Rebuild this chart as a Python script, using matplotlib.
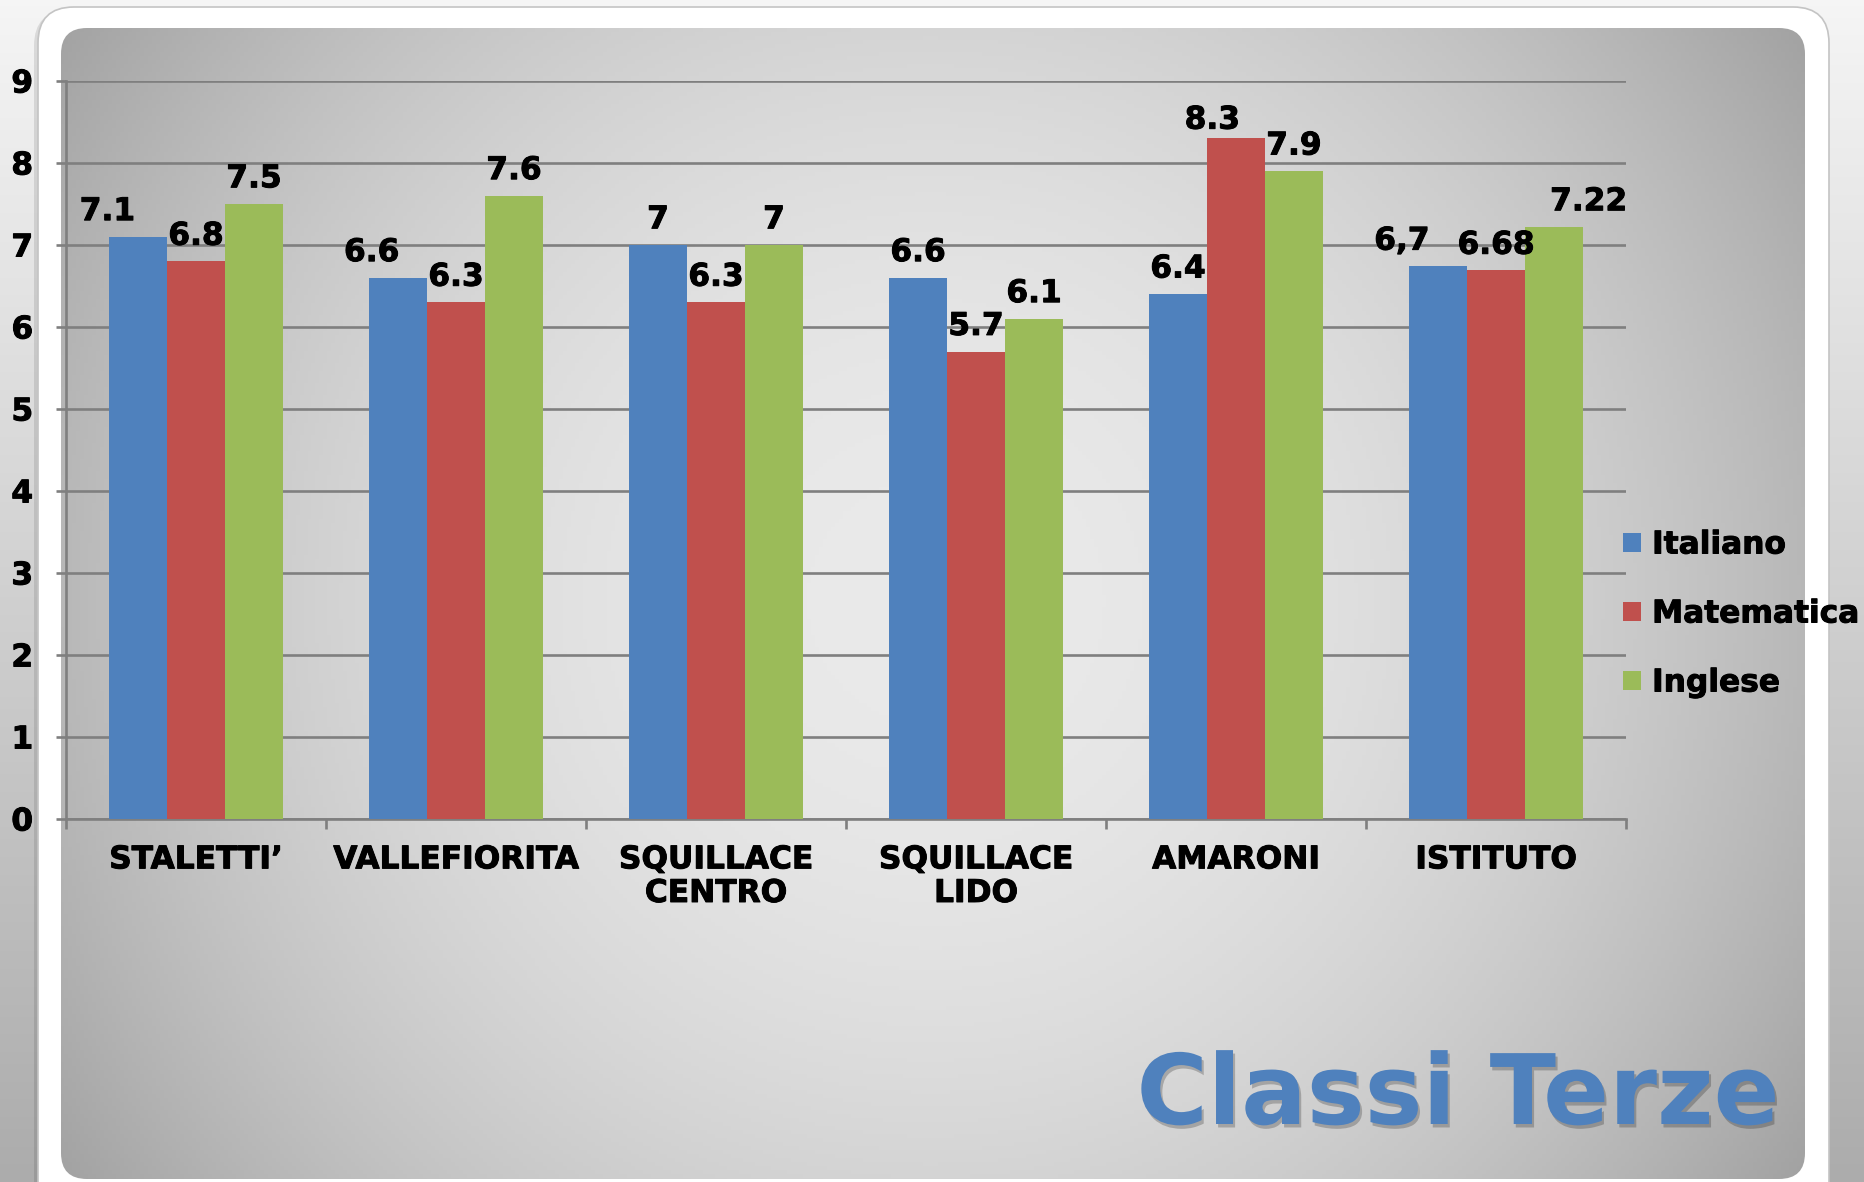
import numpy as np
import matplotlib
matplotlib.use("Agg")
import matplotlib.pyplot as plt
from matplotlib.patches import FancyBboxPatch, Patch
import matplotlib.patheffects as pe

# ---------------- data ----------------
categories = ["STALETTI\u2019", "VALLEFIORITA", "SQUILLACE\nCENTRO", "SQUILLACE\nLIDO", "AMARONI", "ISTITUTO"]
series_names = ["Italiano", "Matematica", "Inglese"]
italiano = [7.1, 6.6, 7.0, 6.6, 6.4, 6.74]
matematica = [6.8, 6.3, 6.3, 5.7, 8.3, 6.69]
inglese = [7.5, 7.6, 7.0, 6.1, 7.9, 7.22]
italiano_labels = ["7.1", "6.6", "7", "6.6", "6.4", "6,7"]
matematica_labels = ["6.8", "6.3", "6.3", "5.7", "8.3", "6.68"]
inglese_labels = ["7.5", "7.6", "7", "6.1", "7.9", "7.22"]
y_ticks = [0, 1, 2, 3, 4, 5, 6, 7, 8, 9]
title_text = "Classi Terze"

# ---------------- style ----------------
colors = ["#4F81BD", "#C0504D", "#9BBB59"]
label_dx = [  # horizontal nudges of the value labels (points)
    [-22, -19, 0, 0, 0, -26],
    [0, 0, 0, 0, -17, 0],
    [0, 0, 0, 0, 0, 25],
]
label_dy = [
    [12, 12, 12, 12, 12, 12],
    [12, 12, 12, 12, 7, 12],
    [12, 12, 12, 12, 12, 12],
]
W, H = 1865, 1182
DPI = 100
FS = 22.5
plt.rcParams['font.family'] = ['DejaVu Sans']
heavy = [pe.withStroke(linewidth=0.7, foreground="black")]

fig = plt.figure(figsize=(W / DPI, H / DPI), dpi=DPI)

# ---------------- backgrounds ----------------
bg = fig.add_axes([0, 0, 1, 1], zorder=0)
bg.set_xlim(0, W)
bg.set_ylim(H, 0)
bg.axis("off")

# outer vertical gradient
yy = np.linspace(0, 1, 200)[:, None]
outer = 245 - (245 - 172) * yy
outer = np.repeat(outer, 2, axis=1) / 255.0
bg.imshow(np.dstack([outer, outer, outer]), extent=(0, W, H, 0), aspect="auto", zorder=0)

# white slide with subtle shadow
shadow = FancyBboxPatch((34, 10), 1791 + 4, 1300, boxstyle="round,pad=0,rounding_size=36",
                        facecolor="#000000", alpha=0.10, edgecolor="none", zorder=1)
bg.add_patch(shadow)
slide = FancyBboxPatch((38, 7), 1791, 1300, boxstyle="round,pad=0,rounding_size=36",
                       facecolor="white", edgecolor="#c4c4c4", linewidth=1.2, zorder=2)
bg.add_patch(slide)

# inner gray radial panel
gx = np.arange(0, W, 4)
gy = np.arange(0, H, 4)
GX, GY = np.meshgrid(gx, gy)
val = 234 - 6.6e-5 * ((GX - 930) ** 2 + (GY - 600) ** 2)
val = np.clip(val, 150, 240) / 255.0
img = bg.imshow(np.dstack([val, val, val]), extent=(0, W, H, 0), aspect="auto", zorder=3)
panel = FancyBboxPatch((61, 28), 1744, 1151, boxstyle="round,pad=0,rounding_size=26",
                       facecolor="none", edgecolor="none", zorder=3)
bg.add_patch(panel)
img.set_clip_path(panel)

# ---------------- chart ----------------
left, right, top, bottom = 66, 1626, 81, 819
ax = fig.add_axes([left / W, 1 - bottom / H, (right - left) / W, (bottom - top) / H], zorder=2)
ax.patch.set_alpha(0)

x = np.arange(len(categories))
bw = 58 / 260
series = [italiano, matematica, inglese]
labels = [italiano_labels, matematica_labels, inglese_labels]
for i, (vals, labs) in enumerate(zip(series, labels)):
    xs = x + (i - 1) * bw
    ax.bar(xs, vals, width=bw, color=colors[i], label=series_names[i], zorder=3)
    for j, (xv, v, t) in enumerate(zip(xs, vals, labs)):
        ax.annotate(t, (xv, v), xytext=(label_dx[i][j], label_dy[i][j]), textcoords="offset points",
                    ha="center", va="baseline", fontsize=FS, fontweight="bold", color="black",
                    zorder=5, annotation_clip=False, path_effects=heavy)

ax.set_xlim(-0.5, len(categories) - 0.5)
ax.set_ylim(0, 9)
ax.set_yticks(y_ticks)
ax.set_yticklabels([str(t) for t in y_ticks], fontsize=FS, fontweight="bold")
ax.set_xticks(x)
ax.set_xticklabels(categories, fontsize=FS, fontweight="bold", linespacing=1.2)
ax.set_xticks(np.arange(-0.5, len(categories)), minor=True)
for lab in ax.get_xticklabels() + ax.get_yticklabels():
    lab.set_path_effects(heavy)

gray = "#7f7f7f"
ax.yaxis.grid(True, color=gray, linewidth=1.9, zorder=1)
ax.set_axisbelow(True)
for s in ["top", "right"]:
    ax.spines[s].set_visible(False)
for s in ["left", "bottom"]:
    ax.spines[s].set_color(gray)
    ax.spines[s].set_linewidth(1.9)
ax.tick_params(axis="y", direction="out", length=7.2, width=1.9, color=gray, pad=16.5)
ax.tick_params(axis="x", which="major", length=0, pad=19)
ax.tick_params(axis="x", which="minor", direction="out", length=7.2, width=1.9, color=gray)

handles = [Patch(facecolor=c, edgecolor="none") for c in colors]
leg = fig.legend(handles, series_names, loc="center left", bbox_to_anchor=(1623 / W, 1 - 614 / H),
                 frameon=False, borderpad=0, borderaxespad=0, handlelength=0.58, handleheight=0.58,
                 handletextpad=0.35, labelspacing=1.28,
                 prop={"size": FS, "weight": "bold"})
for t in leg.get_texts():
    t.set_path_effects(heavy)

# title
fig.text(1458 / W, 1 - 1124 / H, title_text, ha="center", va="baseline", fontsize=70,
         fontweight="bold", color="#4F81BD", zorder=10,
         path_effects=[pe.withSimplePatchShadow(offset=(1.5, -2.5), shadow_rgbFace="#000000", alpha=0.22)])

fig.savefig("out.png", dpi=DPI)
